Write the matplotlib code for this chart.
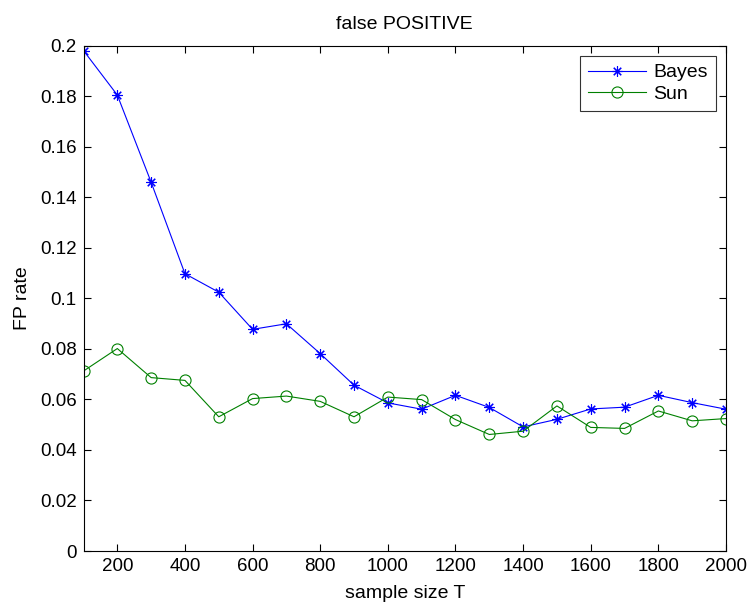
import matplotlib
matplotlib.use("Agg")
import matplotlib.pyplot as plt

plt.rcParams['font.family'] = ['Liberation Sans', 'DejaVu Sans']

sample_size = [100, 200, 300, 400, 500, 600, 700, 800, 900, 1000,
               1100, 1200, 1300, 1400, 1500, 1600, 1700, 1800, 1900, 2000]
bayes = [0.198, 0.1804, 0.1459, 0.1097, 0.1024, 0.0877, 0.0899, 0.0781, 0.0656, 0.0586,
         0.0561, 0.0616, 0.0568, 0.0491, 0.0521, 0.0562, 0.0569, 0.0616, 0.0587, 0.0561]
sun = [0.0712, 0.0801, 0.0686, 0.0675, 0.0531, 0.0603, 0.0613, 0.0592, 0.0531, 0.0609,
       0.0599, 0.0520, 0.0461, 0.0474, 0.0574, 0.0489, 0.0485, 0.0554, 0.0515, 0.0524]
xticks = [200, 400, 600, 800, 1000, 1200, 1400, 1600, 1800, 2000]
yticks = [0, 0.02, 0.04, 0.06, 0.08, 0.1, 0.12, 0.14, 0.16, 0.18, 0.2]
yticklabels = ['0', '0.02', '0.04', '0.06', '0.08', '0.1', '0.12', '0.14', '0.16', '0.18', '0.2']

fig = plt.figure(figsize=(7.48, 6.02), dpi=100)
ax = fig.add_axes([83.5/748, 1 - 551/602, 642.5/748, 505.5/602])

ax.plot(sample_size, bayes, color=(0, 0, 1), marker=(8, 2, 0), markersize=7.5,
        markeredgewidth=0.8, linewidth=0.8, label='Bayes')
ax.plot(sample_size, sun, color=(0, 0.5, 0), marker='o', markersize=8,
        markerfacecolor='none', markeredgewidth=0.8, linewidth=0.8, label='Sun')

ax.set_xlim(100, 2000)
ax.set_ylim(0, 0.2)
ax.set_xticks(xticks)
ax.set_yticks(yticks)
ax.set_yticklabels(yticklabels)
ax.tick_params(direction='in', top=True, right=True, labelsize=13.5, length=5, width=0.8, pad=5)
for s in ax.spines.values():
    s.set_linewidth(0.8)

ax.set_xlabel('sample size T', fontsize=14, labelpad=7)
ax.set_ylabel('FP rate', fontsize=14, labelpad=6)
ax.set_title('false POSITIVE', fontsize=14, pad=12)

leg = ax.legend(loc='upper right', fontsize=14, frameon=True, fancybox=False,
                edgecolor='black', borderaxespad=0.52, handlelength=3.0,
                handletextpad=0.35, borderpad=0.42, labelspacing=0.2)
leg.get_frame().set_linewidth(0.8)

fig.savefig('out.png', dpi=100)
